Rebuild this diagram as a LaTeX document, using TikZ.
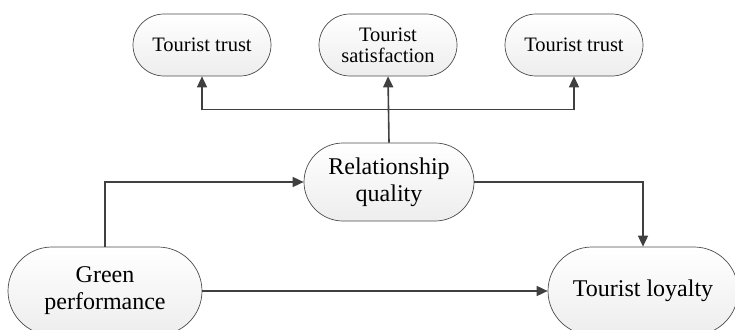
\documentclass[tikz,border=0pt]{standalone}
\usepackage{fontspec}
\setmainfont{Liberation Serif}
\usetikzlibrary{arrows.meta, calc}

\begin{document}
\begin{tikzpicture}[x=1pt, y=1pt,
    boxstyle/.style={draw=black!70, line width=0.7pt, top color=white, bottom color=black!7,
      align=center, inner sep=0pt, text=black},
    smallbox/.style={boxstyle, minimum width=138pt, minimum height=62pt, rounded corners=31pt,
      font=\fontsize{20.5}{21}\selectfont},
    bigbox/.style={boxstyle, font=\fontsize{24}{27}\selectfont},
    arrowstyle/.style={-{Triangle[length=11pt, width=10pt]}, draw=black!75, line width=1.6pt}]
  \useasboundingbox (0,0) rectangle (735,-329);
  % top row
  \node[smallbox] (trustA) at (202,-45) {Tourist trust};
  \node[smallbox] (satis)  at (388,-45) {Tourist\\satisfaction};
  \node[smallbox] (trustB) at (574,-45) {Tourist trust};
  % middle and bottom
  \node[bigbox, minimum width=170pt, minimum height=78pt, rounded corners=39pt]
    (relq) at (389,-182) {Relationship\\quality};
  \node[bigbox, minimum width=194pt, minimum height=88pt, rounded corners=44pt]
    (green) at (105,-291) {Green\\performance};
  \node[bigbox, minimum width=190pt, minimum height=88pt, rounded corners=44pt]
    (loyal) at (643,-291) {Tourist loyalty};
  % connectors
  \coordinate (bus) at ($(relq.north)!0.5!(satis.south)$);
  \draw[arrowstyle] (relq.north) -- (satis.south);
  \draw[arrowstyle] (bus) -| (trustA.south);
  \draw[arrowstyle] (bus) -| (trustB.south);
  \draw[arrowstyle] (green.north) |- (relq.west);
  \draw[arrowstyle] (relq.east) -| (loyal.north);
  \draw[arrowstyle] (green.east) -- (loyal.west);
\end{tikzpicture}
\end{document}
